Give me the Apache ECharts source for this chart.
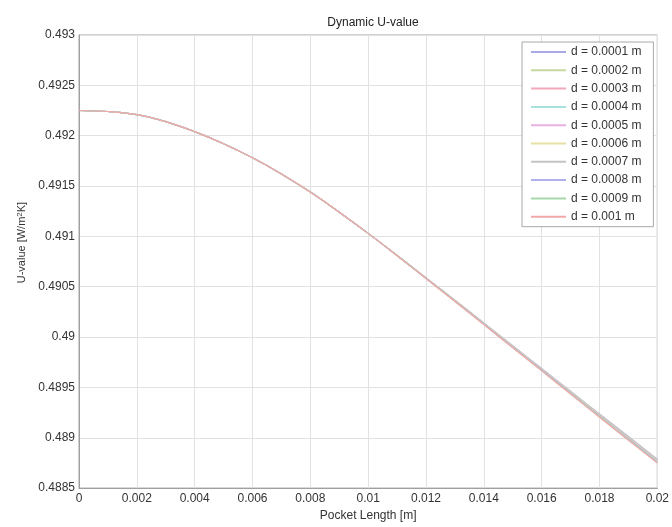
<!DOCTYPE html>
<html>
<head>
<meta charset="utf-8">
<script src="https://cdn.jsdelivr.net/npm/echarts@6/dist/echarts.min.js"></script>
<style>html,body{margin:0;padding:0;background:#fff}#c{width:672px;height:527px}</style>
</head>
<body>
<div id="c"></div>
<script>
var pocketLength = [0,0.001,0.002,0.003,0.004,0.005,0.006,0.007,0.008,0.009,0.010,0.011,0.012,0.013,0.014,0.015,0.016,0.017,0.018,0.019,0.020];
var seriesNames = ['d = 0.0001 m','d = 0.0002 m','d = 0.0003 m','d = 0.0004 m','d = 0.0005 m','d = 0.0006 m','d = 0.0007 m','d = 0.0008 m','d = 0.0009 m','d = 0.001 m'];
// shared head (0 .. 0.010 m), curves coincide here
var uHead = [0.492250,0.492240,0.492210,0.492140,0.492040,0.491920,0.491780,0.491620,0.491440,0.491240,0.491030];
// tails (0.011 .. 0.020 m)
var u1  = [0.490812,0.490589,0.490366,0.490140,0.489914,0.489688,0.489462,0.489236,0.489012,0.488788];
var u2  = [0.490812,0.490588,0.490365,0.490138,0.489912,0.489685,0.489459,0.489232,0.489008,0.488783];
var u3  = [0.490811,0.490587,0.490363,0.490136,0.489909,0.489682,0.489455,0.489228,0.489003,0.488778];
var u4  = [0.490811,0.490586,0.490362,0.490134,0.489907,0.489679,0.489452,0.489224,0.488999,0.488773];
var u5  = [0.490810,0.490585,0.490360,0.490132,0.489904,0.489676,0.489448,0.489220,0.488994,0.488768];
var u6  = [0.490810,0.490584,0.490359,0.490131,0.489902,0.489674,0.489446,0.489218,0.488991,0.488765];
var u7  = [0.490810,0.490584,0.490358,0.490130,0.489901,0.489673,0.489444,0.489216,0.488989,0.488763];
var u8  = [0.490809,0.490583,0.490357,0.490128,0.489899,0.489670,0.489441,0.489212,0.488985,0.488758];
var u9  = [0.490808,0.490582,0.490355,0.490126,0.489896,0.489667,0.489437,0.489208,0.488980,0.488753];
var u10 = [0.490808,0.490581,0.490354,0.490124,0.489894,0.489664,0.489434,0.489204,0.488976,0.488748];
var uTails = [u1,u2,u3,u4,u5,u6,u7,u8,u9,u10];
var colors = ['#a9a9e6','#c4d8a0','#f0a8ba','#a8e0dc','#e6b0e0','#e8e0a4','#c4c4c4','#b0b0ec','#a8d8aa','#f2a8a8'];

var font = 'Liberation Sans, Arial, sans-serif';
var chart = echarts.init(document.getElementById('c'), null, {renderer:'canvas'});
var series = seriesNames.map(function(n, i){
  var ys = uHead.concat(uTails[i]);
  return {
    name: n, type: 'line', symbol: 'none', smooth: 0.4,
    data: pocketLength.map(function(x, j){ return [x, ys[j]]; }),
    lineStyle: {width: 1.2, color: colors[i]},
    itemStyle: {color: colors[i]}
  };
});
chart.setOption({
  animation: false,
  backgroundColor: '#fff',
  title: {
    text: 'Dynamic U-value', left: 368, top: 12, textAlign: 'center',
    textStyle: {fontFamily: font, fontSize: 12, fontWeight: 'normal', color: '#222'}
  },
  grid: {left: 79, right: 14, top: 35, bottom: 34, show: true, borderColor: '#a0a0a0', borderWidth: 1},
  legend: {
    orient: 'vertical', left: 522, top: 42,
    itemWidth: 35, itemHeight: 12, itemGap: 6.3,
    padding: [4, 12, 4, 8],
    itemStyle: {opacity: 0},
    backgroundColor: '#fff', borderColor: '#a8a8a8', borderWidth: 1,
    textStyle: {fontFamily: font, fontSize: 12, color: '#333'},
    data: seriesNames
  },
  xAxis: {
    type: 'value', min: 0, max: 0.02, interval: 0.002,
    name: 'Pocket Length [m]', nameLocation: 'middle', nameGap: 15,
    nameTextStyle: {fontFamily: font, fontSize: 12, color: '#333'},
    axisLine: {show: true, lineStyle: {color: '#a0a0a0'}},
    axisTick: {show: false},
    axisLabel: {fontFamily: font, fontSize: 12, color: '#333', margin: 5},
    splitLine: {show: true, lineStyle: {color: '#e2e2e2', width: 1}}
  },
  yAxis: {
    type: 'value', min: 0.4885, max: 0.493, interval: 0.0005,
    name: 'U-value [W/m{sup|2}K]', nameLocation: 'middle', nameGap: 50,
    nameTextStyle: {fontFamily: font, fontSize: 11, color: '#333', padding: [0, 0, 0, 38],
      rich: {sup: {fontFamily: font, fontSize: 8, color: '#333', verticalAlign: 'top', padding: [0,0,4,0]}}},
    axisLine: {show: true, lineStyle: {color: '#a0a0a0'}},
    axisTick: {show: false},
    axisLabel: {fontFamily: font, fontSize: 12, color: '#333', margin: 4},
    splitLine: {show: true, lineStyle: {color: '#e2e2e2', width: 1}}
  },
  series: series
});
</script>
</body>
</html>
